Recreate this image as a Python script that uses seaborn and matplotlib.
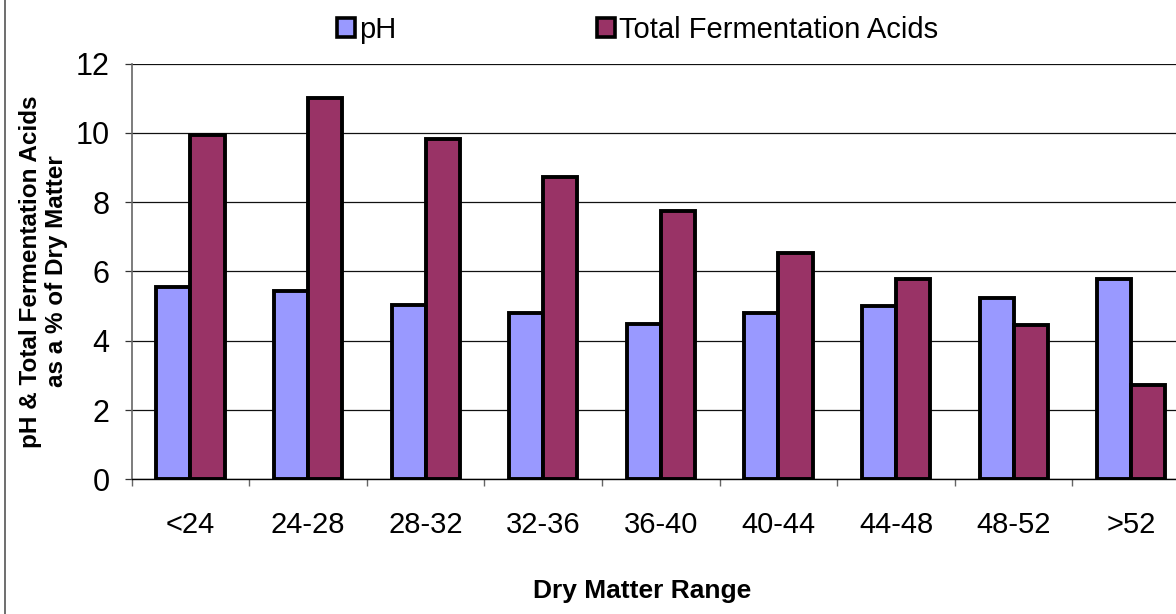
import numpy as np
import pandas as pd
import seaborn as sns
import matplotlib
matplotlib.use("Agg")
import matplotlib.pyplot as plt
from matplotlib.lines import Line2D

categories = ["<24", "24-28", "28-32", "32-36", "36-40", "40-44", "44-48", "48-52", ">52"]
ph_values = [5.56, 5.44, 5.02, 4.80, 4.48, 4.81, 5.00, 5.24, 5.78]
tfa_values = [9.93, 11.02, 9.82, 8.72, 7.76, 6.54, 5.78, 4.46, 2.72]
series_names = ["pH", "Total Fermentation Acids"]
y_ticks = [0, 2, 4, 6, 8, 10, 12]

df = pd.DataFrame({
    "Dry Matter Range": categories * 2,
    "value": ph_values + tfa_values,
    "series": [series_names[0]] * len(categories) + [series_names[1]] * len(categories),
})

sns.set_theme(style="white")
plt.rcParams["font.family"] = ["Liberation Sans Narrow", "Liberation Sans", "DejaVu Sans"]
plt.rcParams["text.color"] = "black"
plt.rcParams["axes.labelcolor"] = "black"

W, H = 1176, 614
fig = plt.figure(figsize=(W / 100, H / 100), dpi=100)
ax_left, ax_right, ax_top, ax_bottom = 131.7, 1190, 63.7, 479.3
ax = fig.add_axes([ax_left / W, 1 - ax_bottom / H, (ax_right - ax_left) / W, (ax_bottom - ax_top) / H])

palette = {series_names[0]: "#9999FF", series_names[1]: "#993366"}
sns.barplot(data=df, x="Dry Matter Range", y="value", hue="series", palette=palette,
            width=0.58, gap=0, edgecolor="black", linewidth=2.8, saturation=1,
            ax=ax, legend=False, zorder=3)

ax.set_ylim(0, 12)
ax.set_xlim(-0.5, len(categories) - 0.5)
ax.set_yticks(y_ticks)
ax.yaxis.grid(True, color="#111111", linewidth=0.9, zorder=0)
ax.set_axisbelow(True)

for s in ["top", "right"]:
    ax.spines[s].set_visible(False)
ax.spines["left"].set_color("#666666")
ax.spines["left"].set_linewidth(1.2)
ax.spines["bottom"].set_color("#000000")
ax.spines["bottom"].set_linewidth(1.0)

ax.tick_params(axis="y", which="major", direction="out", length=5, width=0.9, color="#333333",
               pad=11, labelsize=22, left=True, labelcolor="black")
ax.tick_params(axis="x", which="major", length=0, pad=23, labelsize=21, labelcolor="black")
ax.set_xticks(np.arange(-0.5, len(categories), 1.0), minor=True)
ax.tick_params(axis="x", which="minor", direction="out", length=5, width=1.0, color="#666666", bottom=True)

ax.set_ylabel("pH & Total Fermentation Acids\nas a % of Dry Matter", fontsize=17.5, fontweight="bold",
              linespacing=1.2, labelpad=5, color="black")
ax.set_xlabel("Dry Matter Range", fontsize=19, fontweight="bold", color="black")
ax.xaxis.set_label_coords((642 - ax_left) / (ax_right - ax_left), -(579 - ax_bottom) / (ax_bottom - ax_top))

handles = [plt.Rectangle((0, 0), 1, 1, facecolor=palette[n], edgecolor="black", linewidth=2.6) for n in series_names]
fig.legend(handles, series_names, loc="center left", bbox_to_anchor=(337 / W, 1 - 30 / H),
           ncol=2, frameon=False, fontsize=21, handlelength=0.6, handleheight=0.6,
           handletextpad=0.15, columnspacing=6.9, borderpad=0, borderaxespad=0)

fig.add_artist(Line2D([4.5 / W, 4.5 / W], [0, 1], transform=fig.transFigure, color="#555555", linewidth=1.2))

fig.savefig("out.png", dpi=100)
